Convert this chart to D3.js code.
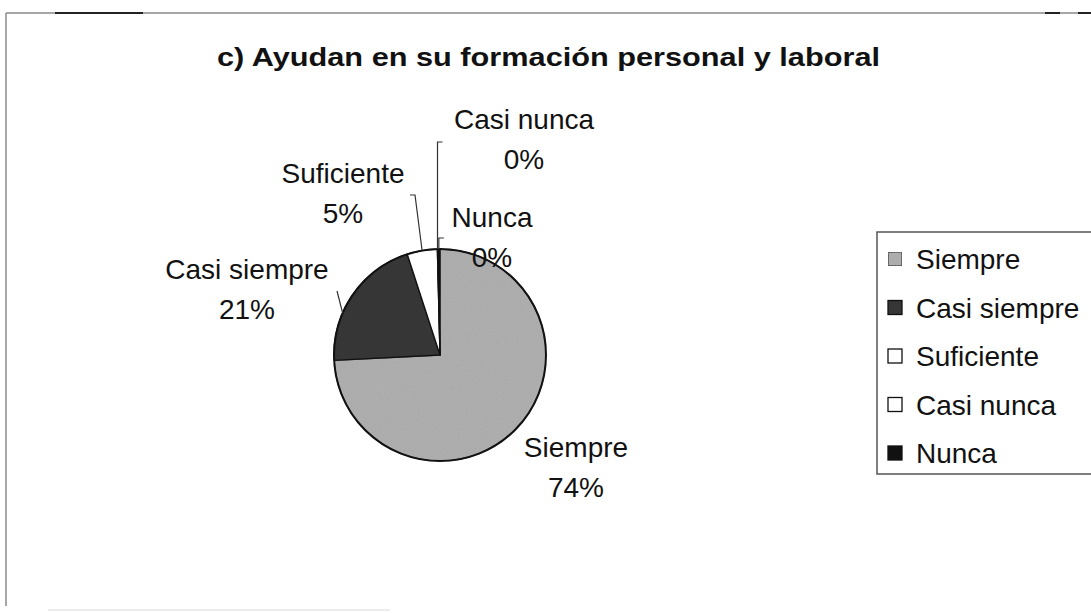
<!DOCTYPE html>
<html>
<head>
<meta charset="utf-8">
<script src="https://cdn.jsdelivr.net/npm/d3@7"></script>
<style>
  html, body { margin: 0; padding: 0; background: #fff; }
  svg { display: block; }
  text { font-family: "Liberation Sans", Arial, sans-serif; fill: #111; }
</style>
</head>
<body>
<svg id="chart" width="1091" height="613"></svg>
<script>
// ---- data ----
const categories = ["Siempre", "Casi siempre", "Suficiente", "Casi nunca", "Nunca"];
const values = [74.2, 20.8, 4.6, 0.05, 0.35];
const percentLabels = ["74%", "21%", "5%", "0%", "0%"];
const colors = ["#a7a7a7", "#363636", "#ffffff", "#ffffff", "#111111"];
const title = "c) Ayudan en su formación personal y laboral";

// ---- layout ----
const W = 1091, H = 613;
const cx = 440, cy = 355, R = 106;
const labelPos = [
  { x: 576, y: 457 },
  { x: 247, y: 279 },
  { x: 343, y: 183 },
  { x: 524, y: 129 },
  { x: 492, y: 227 }
];

const svg = d3.select("#chart");

// texture for the grey slice
const defs = svg.append("defs");
const filt = defs.append("filter").attr("id", "grain").attr("x", 0).attr("y", 0).attr("width", 1).attr("height", 1);
filt.append("feTurbulence").attr("type", "fractalNoise").attr("baseFrequency", 0.9).attr("numOctaves", 2).attr("result", "noise");
filt.append("feColorMatrix").attr("in", "noise").attr("type", "matrix")
  .attr("values", "0 0 0 0 0.55  0 0 0 0 0.55  0 0 0 0 0.55  0 0 0 0.35 0").attr("result", "tint");
filt.append("feComposite").attr("in", "tint").attr("in2", "SourceGraphic").attr("operator", "atop");

// frame
svg.append("line").attr("x1", 6).attr("y1", 13).attr("x2", W).attr("y2", 13)
  .attr("stroke", "#8a8a8a").attr("stroke-width", 1.5);
svg.append("line").attr("x1", 6).attr("y1", 13).attr("x2", 6).attr("y2", 606)
  .attr("stroke", "#8a8a8a").attr("stroke-width", 1.5);
svg.append("line").attr("x1", 55).attr("y1", 13).attr("x2", 143).attr("y2", 13)
  .attr("stroke", "#222").attr("stroke-width", 2);
svg.append("line").attr("x1", 1045).attr("y1", 13).attr("x2", 1060).attr("y2", 13)
  .attr("stroke", "#222").attr("stroke-width", 2);
svg.append("line").attr("x1", 1078).attr("y1", 13).attr("x2", W).attr("y2", 13)
  .attr("stroke", "#222").attr("stroke-width", 2);
svg.append("line").attr("x1", 48).attr("y1", 610).attr("x2", 390).attr("y2", 610)
  .attr("stroke", "#e6e6e6").attr("stroke-width", 1.5);

// title
svg.append("text")
  .attr("x", 217).attr("y", 66)
  .attr("font-size", 25).attr("font-weight", "bold")
  .attr("textLength", 663).attr("lengthAdjust", "spacingAndGlyphs")
  .text(title);

// pie
const pie = d3.pie().sort(null).value(d => d.v).startAngle(0).endAngle(2 * Math.PI);
const arc = d3.arc().innerRadius(0).outerRadius(R);
const data = categories.map((c, i) => ({ c, v: values[i], col: colors[i], pct: percentLabels[i], i }));
const arcs = pie(data);

const g = svg.append("g").attr("transform", `translate(${cx},${cy})`);
g.selectAll("path.slice").data(arcs).enter().append("path")
  .attr("class", "slice")
  .attr("d", arc)
  .attr("fill", d => d.data.col)
  .attr("filter", d => d.index === 0 ? "url(#grain)" : null)
  .attr("stroke", "#111")
  .attr("stroke-width", 1.3)
  .attr("stroke-linejoin", "round");
g.append("circle").attr("r", R).attr("fill", "none").attr("stroke", "#111").attr("stroke-width", 2);

// leader lines (from label box toward slice edge)
const leader = svg.append("g").attr("fill", "none").attr("stroke", "#333").attr("stroke-width", 1.2);
function edgePoint(a, rr) {
  return [cx + rr * Math.sin(a), cy - rr * Math.cos(a)];
}
// Suficiente
{
  const a = arcs[2], mid = (a.startAngle + a.endAngle) / 2;
  const p = edgePoint(mid, R);
  leader.append("path").attr("d", `M${labelPos[2].x + 67},195 L${labelPos[2].x + 72},195 L${p[0]},${p[1]}`);
}
// Casi nunca
{
  const a = arcs[3], mid = (a.startAngle + a.endAngle) / 2;
  const p = edgePoint(mid, R);
  leader.append("path").attr("d", `M${p[0] + 5},142 L${p[0]},142 L${p[0]},${p[1]}`);
}
// Nunca
{
  const a = arcs[4], mid = (a.startAngle + a.endAngle) / 2;
  const p = edgePoint(mid, R);
  leader.append("path").attr("d", `M${p[0] + 5},238 L${p[0]},238 L${p[0]},${p[1]}`);
}
// Casi siempre
{
  const a = arcs[1], mid = (a.startAngle + a.endAngle) / 2;
  const p = edgePoint(a.startAngle + (a.endAngle - a.startAngle) * 0.35, R);
  leader.append("path").attr("d", `M337,291 L${p[0]},${p[1]}`);
}

// data labels
const lab = svg.append("g").attr("font-size", 28).attr("text-anchor", "middle");
arcs.forEach((a, i) => {
  const lp = labelPos[i];
  lab.append("text").attr("x", lp.x).attr("y", lp.y).text(a.data.c);
  lab.append("text").attr("x", lp.x).attr("y", lp.y + 40).text(a.data.pct);
});

// legend
const lg = svg.append("g");
lg.append("path").attr("d", `M${W},232 L877,232 L877,474 L${W},474`)
  .attr("fill", "#fff").attr("stroke", "#555").attr("stroke-width", 1.5);
const rowY = d3.scalePoint().domain(categories).range([259, 453]);
categories.forEach((c, i) => {
  const y = rowY(c);
  lg.append("rect").attr("x", 888).attr("y", y - 7).attr("width", 14).attr("height", 14)
    .attr("fill", colors[i]).attr("stroke", "#111").attr("stroke-width", 1.3)
    .attr("filter", i === 0 ? "url(#grain)" : null);
  lg.append("text").attr("x", 916).attr("y", y + 10).attr("font-size", 28).text(c);
});
</script>
</body>
</html>
